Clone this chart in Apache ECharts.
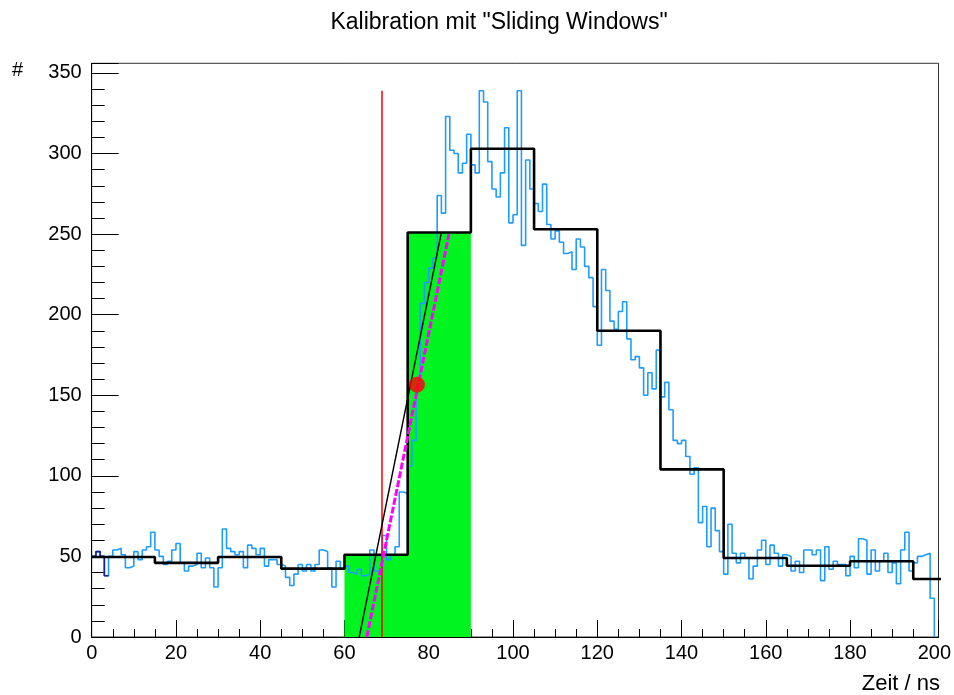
<!DOCTYPE html>
<html>
<head>
<meta charset="utf-8">
<script src="https://cdn.jsdelivr.net/npm/echarts@6/dist/echarts.min.js"></script>
<style>
html, body { margin: 0; padding: 0; background: #fff; }
#chart { width: 954px; height: 695px; }
</style>
</head>
<body>
<div id="chart"></div>
<script>
// Fine histogram: 1 ns bins, 0 .. 200 ns
const fineCounts = [
  50, 53, 50, 38, 50, 54, 55, 51, 43, 44,
  53, 48, 54, 56, 65, 54, 50, 45, 47, 54,
  58, 46, 41, 44, 45, 52, 43, 49, 43, 31,
  43, 67, 55, 53, 51, 53, 43, 57, 55, 51,
  55, 44, 48, 48, 45, 44, 37, 32, 39, 45,
  41, 45, 41, 45, 54, 53, 43, 31, 47, 42,
  44, 40, 39, 42, 38, 39, 54, 41, 41, 63,
  48, 51, 56, 90, 89, 106, 122, 155, 207, 220,
  229, 235, 274, 263, 323, 302, 300, 288, 294, 312,
  293, 288, 339, 332, 295, 278, 273, 288, 316, 257,
  262, 339, 243, 296, 278, 269, 264, 281, 256, 247,
  252, 245, 238, 239, 228, 247, 242, 230, 223, 205,
  181, 228, 215, 196, 191, 202, 208, 185, 172, 174,
  167, 150, 164, 154, 178, 149, 158, 141, 122, 120,
  122, 112, 101, 105, 71, 81, 56, 80, 66, 53,
  39, 70, 52, 46, 52, 49, 36, 44, 54, 60,
  45, 57, 52, 44, 51, 50, 41, 47, 40, 54,
  54, 51, 54, 35, 56, 42, 47, 45, 45, 38,
  50, 43, 61, 60, 39, 54, 41, 47, 52, 40,
  46, 33, 54, 65, 41, 46, 50, 51, 52, 24
];
const fineBinWidth = 1;

// Leading bins drawn in the dark colour
const darkCounts = [50, 53, 50, 38];

// Sliding-window histogram: 15 ns windows
const windowEdges = [0, 15, 30, 45, 60, 75, 90, 105, 120, 135, 150, 165, 180, 195, 210];
const windowCounts = [49.6, 46, 49.6, 42.4, 51, 251, 303, 253, 190, 104, 49, 44.2, 47, 36];

// Selected windows (filled)
const selectedEdges = [60, 75, 90];
const selectedCounts = [51, 251];

// Threshold marker, rising-edge fits and the interpolated point
const thresholdX = 68.9;
const thresholdTop = 339;
const edgeFit = [[63.5, 0], [83, 251]];
const slopeFit = [[65.3, 0], [84.8, 250]];
const crossPoint = [77.2, 156.6];

// Axis ranges and ticks
const xRange = [0, 201];
const yRange = [0, 356];
const xMajor = 20, xMinor = 5;
const yMajor = 50, yMinor = 10;

// Turn bin edges + counts into step points (horizontal first, then vertical)
function stepPoints(edges, counts) {
  const pts = counts.map((c, i) => [edges[i], c]);
  pts.push([edges[counts.length], counts[counts.length - 1]]);
  return pts;
}
const fineEdges = fineCounts.map((_, i) => i * fineBinWidth).concat([fineCounts.length * fineBinWidth]);
const finePts = stepPoints(fineEdges, fineCounts);
finePts.push([fineEdges[fineEdges.length - 1], 0]);
const darkPts = stepPoints(fineEdges.slice(0, darkCounts.length + 1), darkCounts);

const FONT = 'Liberation Sans, Arial, Helvetica, sans-serif';
const chart = echarts.init(document.getElementById('chart'), null, { renderer: 'canvas' });

const gridBox = { left: 91.7, right: 14.7, top: 63.3, bottom: 58 };

chart.setOption({
  animation: false,
  backgroundColor: '#fff',
  title: {
    text: 'Kalibration mit "Sliding Windows"',
    left: 494, top: 6, textAlign: 'center',
    textStyle: { fontFamily: FONT, fontSize: 23, fontWeight: 'normal', color: '#000' }
  },
  grid: Object.assign({ show: true, borderColor: '#333', borderWidth: 1, backgroundColor: 'transparent' }, gridBox),
  xAxis: [
    {
      type: 'value', position: 'bottom', min: xRange[0], max: xRange[1], interval: xMajor,
      axisLine: { show: true, onZero: false, lineStyle: { color: '#000', width: 1 } },
      axisTick: { show: true, inside: true, length: 17, lineStyle: { color: '#000', width: 1 } },
      axisLabel: {
        show: true, color: '#000', fontSize: 20, fontFamily: FONT, margin: 6,
        formatter: v => (v % xMajor === 0 ? String(v) : '')
      },
      splitLine: { show: false }
    },
    {
      type: 'value', position: 'bottom', min: xRange[0], max: xRange[1], interval: xMinor,
      axisLine: { show: false, onZero: false },
      axisTick: { show: true, inside: true, length: 8, lineStyle: { color: '#000', width: 1 } },
      axisLabel: { show: false }, splitLine: { show: false }
    }
  ],
  yAxis: [
    {
      type: 'value', position: 'left', min: yRange[0], max: yRange[1], interval: yMajor,
      axisLine: { show: true, onZero: false, lineStyle: { color: '#000', width: 1 } },
      axisTick: { show: true, inside: true, length: 27, lineStyle: { color: '#000', width: 1 } },
      axisLabel: {
        show: true, color: '#000', fontSize: 20, fontFamily: FONT, margin: 10,
        formatter: v => (v % yMajor === 0 ? String(v) : '')
      },
      splitLine: { show: false }
    },
    {
      type: 'value', position: 'left', min: yRange[0], max: yRange[1], interval: yMinor,
      axisLine: { show: false, onZero: false },
      axisTick: { show: true, inside: true, length: 13, lineStyle: { color: '#000', width: 1 } },
      axisLabel: { show: false }, splitLine: { show: false }
    }
  ],
  graphic: [
    { type: 'text', left: 12, top: 60, style: { text: '#', font: '20px ' + FONT, fill: '#000' } },
    { type: 'text', right: 14, top: 673, style: { text: 'Zeit / ns', font: '22px ' + FONT, fill: '#000' } }
  ],
  series: [
    {
      name: 'selected', type: 'line', step: 'end', showSymbol: false, z: 1,
      data: stepPoints(selectedEdges, selectedCounts),
      lineStyle: { width: 0 },
      areaStyle: { color: '#00f520', opacity: 1 }
    },
    {
      name: 'fine', type: 'line', step: 'end', showSymbol: false, z: 2,
      data: finePts,
      lineStyle: { color: '#1f9cff', width: 1.6 }
    },
    {
      name: 'fineStart', type: 'line', step: 'end', showSymbol: false, z: 3,
      data: darkPts,
      lineStyle: { color: '#1c1c9a', width: 1.6 }
    },
    {
      name: 'windows', type: 'line', step: 'end', showSymbol: false, z: 4, clip: true,
      data: stepPoints(windowEdges, windowCounts),
      lineStyle: { color: '#000', width: 2.6 }
    },
    {
      name: 'threshold', type: 'line', showSymbol: false, z: 5,
      data: [[thresholdX, 0], [thresholdX, thresholdTop]],
      lineStyle: { color: '#ff0000', width: 1.5 }
    },
    {
      name: 'edgeFit', type: 'line', showSymbol: false, z: 6,
      data: edgeFit,
      lineStyle: { color: '#000', width: 1.4 }
    },
    {
      name: 'slopeFit', type: 'line', showSymbol: false, z: 7,
      data: slopeFit,
      lineStyle: { color: '#ff00ff', width: 3, type: [7, 2] }
    },
    {
      name: 'crossing', type: 'scatter', z: 8,
      data: [crossPoint], symbol: 'circle', symbolSize: 16,
      itemStyle: { color: '#ff0000' }
    }
  ]
});
</script>
</body>
</html>
